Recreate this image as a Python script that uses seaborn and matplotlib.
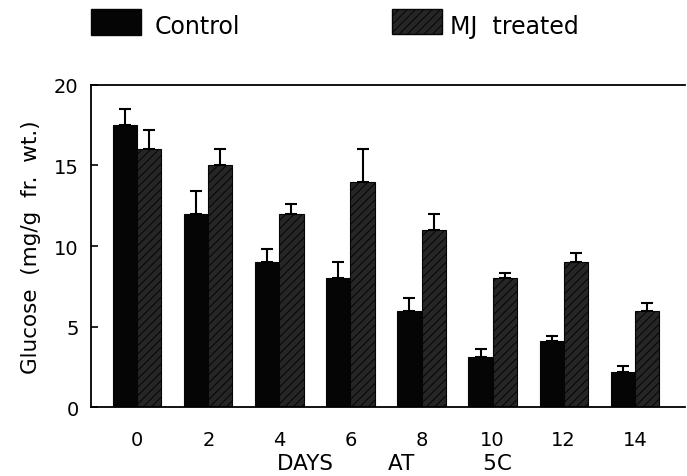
import numpy as np
import pandas as pd
import matplotlib
matplotlib.use("Agg")
import matplotlib.pyplot as plt
import seaborn as sns
from matplotlib.patches import Rectangle

# data
days = ["0", "2", "4", "6", "8", "10", "12", "14"]
control = [17.5, 12.0, 9.0, 8.0, 6.0, 3.1, 4.1, 2.2]
control_err = [1.0, 1.4, 0.8, 1.0, 0.8, 0.5, 0.3, 0.35]
mj = [16.0, 15.0, 12.0, 14.0, 11.0, 8.0, 9.0, 6.0]
mj_err = [1.2, 1.0, 0.6, 2.0, 1.0, 0.3, 0.6, 0.5]
groups = ["Control", "MJ treated"]

sns.set_theme(style="white")
plt.rcParams["font.family"] = ["DejaVu Sans"]
plt.rcParams["text.color"] = "black"
plt.rcParams["axes.labelcolor"] = "black"
plt.rcParams["xtick.color"] = "black"
plt.rcParams["ytick.color"] = "black"
plt.rcParams["hatch.color"] = "#e8e8e8"
plt.rcParams["hatch.linewidth"] = 0.7

df = pd.DataFrame({
    "day": days * 2,
    "glucose": control + mj,
    "group": [groups[0]] * len(days) + [groups[1]] * len(days),
})

fig = plt.figure(figsize=(6.87, 4.77), dpi=100)
ax = fig.add_axes([0.1325, 0.1440, 0.864, 0.676])

sns.barplot(data=df, x="day", y="glucose", hue="group", order=days,
            hue_order=groups, palette=["#050505", "#262626"], width=0.68,
            errorbar=None, legend=False, saturation=1, ax=ax)

errs = control_err + mj_err
vals = control + mj
for i, bar in enumerate(ax.patches[:len(vals)]):
    bar.set_edgecolor("#050505")
    bar.set_linewidth(0.8)
    if i >= len(days):
        bar.set_hatch("////")
    xc = bar.get_x() + bar.get_width() / 2
    ax.errorbar(xc, vals[i], yerr=[[0], [errs[i]]], fmt="none",
                ecolor="black", elinewidth=1.5, capsize=4, capthick=1.5)

ax.set_xlim(-0.65, 7.7)
ax.set_ylim(0, 20)
ax.set_yticks([0, 5, 10, 15, 20])
ax.set_xlabel("DAYS" + " " * 8 + "AT" + " " * 10 + "5C", fontsize=15.5)
ax.xaxis.label.set_va("center")
ax.xaxis.set_label_coords(0.512, -0.172)
ax.set_ylabel("Glucose  (mg/g  fr.  wt.)", fontsize=15.5, labelpad=9)
ax.tick_params(axis="y", direction="in", length=5, width=1.2, labelsize=14,
               left=True, pad=9)
ax.tick_params(axis="x", length=0, labelsize=14, pad=16)
sns.despine(ax=ax, right=True, top=False)
for s in ["left", "top", "bottom"]:
    ax.spines[s].set_color("black")
    ax.spines[s].set_linewidth(1.3)

# legend drawn as figure-level patches + text
fig.patches.append(Rectangle((0.1325, 0.9245), 0.0728, 0.0545, transform=fig.transFigure,
                             facecolor="#050505", edgecolor="#050505"))
fig.text(0.2256, 0.943, groups[0], fontsize=17, va="center")
fig.patches.append(Rectangle((0.5706, 0.9266), 0.0728, 0.0524, transform=fig.transFigure,
                             facecolor="#262626", edgecolor="#050505", hatch="////"))
fig.text(0.655, 0.943, "MJ  treated", fontsize=17, va="center")

fig.savefig("out.png", dpi=100)
